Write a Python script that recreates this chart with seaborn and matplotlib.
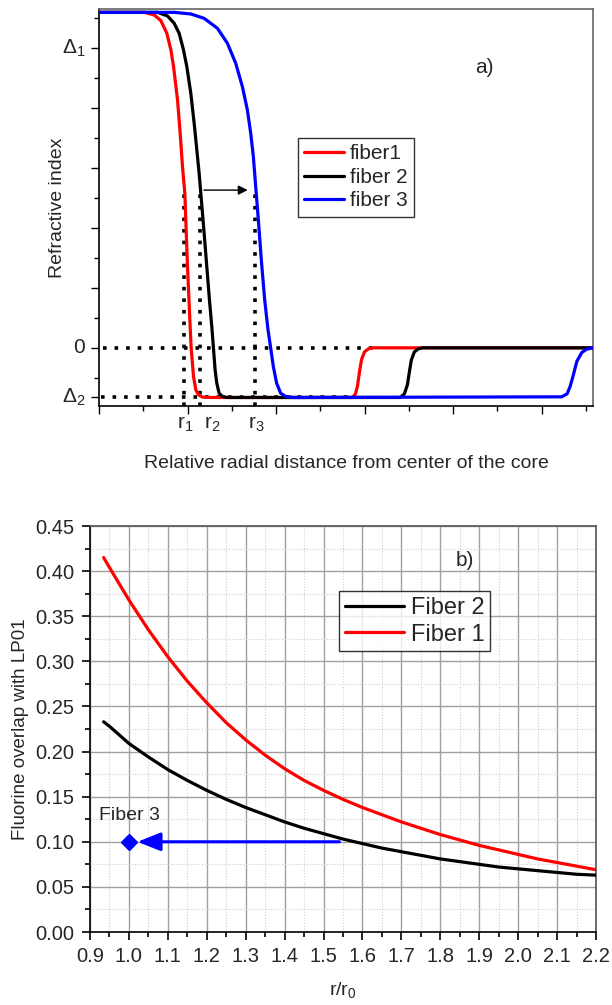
import numpy as np
import pandas as pd
import matplotlib
matplotlib.use("Agg")
import matplotlib.pyplot as plt
from matplotlib.ticker import MultipleLocator, FixedLocator, NullFormatter, FormatStrFormatter
import seaborn as sns

# ---------------- data: panel a) refractive index profiles ----------------
fiber1_x = [0, 1.022, 1.248, 1.398, 1.533, 1.624, 1.684, 1.774, 1.834, 1.886, 1.939, 1.999,
            2.059, 2.082, 2.135, 2.187, 2.247, 2.337, 2.525,
            5.727, 5.795, 5.84, 5.885, 5.93, 5.998, 6.088, 6.178, 11.25]
fiber1_y = [5.594, 5.594, 5.55, 5.456, 5.244, 4.967, 4.689, 4.133, 3.578, 3.022, 2.578, 1.356,
            0.356, 0.0, -0.478, -0.70, -0.783, -0.822, -0.828,
            -0.828, -0.767, -0.633, -0.40, -0.20, -0.067, -0.017, 0.0, 0.0]
fiber2_x = [0, 1.323, 1.548, 1.699, 1.811, 1.909, 1.984, 2.074, 2.150, 2.210, 2.262, 2.300,
            2.375, 2.435, 2.495, 2.548, 2.585, 2.623, 2.661, 2.713, 2.788, 2.901,
            6.809, 6.899, 6.967, 7.012, 7.057, 7.125, 7.215, 7.306, 11.25]
fiber2_y = [5.594, 5.594, 5.533, 5.411, 5.244, 4.967, 4.689, 4.244, 3.744, 3.30, 2.911, 2.578,
            1.911, 1.356, 0.80, 0.356, 0.0, -0.367, -0.589, -0.756, -0.811, -0.828,
            -0.828, -0.767, -0.617, -0.40, -0.20, -0.067, -0.017, 0.0, 0.0]
fiber3_x = [0, 1.699, 2.074, 2.375, 2.676, 2.901, 3.089, 3.239, 3.352, 3.427, 3.487, 3.540,
            3.600, 3.667, 3.743, 3.818, 3.878, 3.938, 4.013, 4.103, 4.216, 4.404,
            10.455, 10.575, 10.643, 10.717, 10.794, 10.906, 11.019, 11.154, 11.25]
fiber3_y = [5.594, 5.594, 5.567, 5.494, 5.328, 5.078, 4.744, 4.356, 3.967, 3.578, 3.189, 2.689,
            2.133, 1.467, 0.80, 0.30, 0.0, -0.311, -0.589, -0.756, -0.811, -0.828,
            -0.817, -0.767, -0.645, -0.45, -0.228, -0.078, -0.022, 0.0, 0.0]
profile_labels = ["fiber1", "fiber 2", "fiber 3"]
delta1 = 5.0
delta2 = -0.828
r_positions = [1.92, 2.28, 3.52]          # dotted marker lines r1, r2, r3
r_label_positions = [1.95, 2.55, 3.56]
r_labels = ["r$_1$", "r$_2$", "r$_3$"]
dotted_top = 2.63
ytick_vals_a = [delta2, 0.0, delta1]
ytick_labels_a = ["Δ$_2$", "0", "Δ$_1$"]

# ---------------- data: panel b) fluorine overlap ----------------
fib1_r = [0.935, 0.95, 1.0, 1.05, 1.1, 1.15, 1.2, 1.25, 1.3, 1.35, 1.4, 1.45, 1.5, 1.55, 1.6,
          1.65, 1.7, 1.75, 1.8, 1.85, 1.9, 1.95, 2.0, 2.05, 2.1, 2.15, 2.2]
fib1_ov = [0.415, 0.404, 0.368, 0.335, 0.305, 0.278, 0.254, 0.232, 0.213, 0.196, 0.181, 0.168,
           0.157, 0.147, 0.138, 0.130, 0.122, 0.115, 0.108, 0.102, 0.096, 0.091, 0.086, 0.081,
           0.077, 0.073, 0.069]
fib2_r = [0.935, 0.95, 1.0, 1.05, 1.1, 1.15, 1.2, 1.25, 1.3, 1.35, 1.4, 1.45, 1.5, 1.55, 1.6,
          1.65, 1.7, 1.75, 1.8, 1.85, 1.9, 1.95, 2.0, 2.05, 2.1, 2.15, 2.2]
fib2_ov = [0.233, 0.228, 0.209, 0.194, 0.180, 0.168, 0.157, 0.147, 0.138, 0.130, 0.122, 0.115,
           0.109, 0.103, 0.098, 0.093, 0.089, 0.085, 0.081, 0.078, 0.075, 0.072, 0.070, 0.068,
           0.066, 0.064, 0.063]
fiber3_point = (1.0, 0.10)
fiber3_arrow_start = (1.541, 0.10)
fiber3_arrow_end = (1.022, 0.10)

df_a = pd.concat([
    pd.DataFrame({"x": fiber1_x, "y": fiber1_y, "fiber": profile_labels[0]}),
    pd.DataFrame({"x": fiber2_x, "y": fiber2_y, "fiber": profile_labels[1]}),
    pd.DataFrame({"x": fiber3_x, "y": fiber3_y, "fiber": profile_labels[2]}),
], ignore_index=True)
df_b = pd.concat([
    pd.DataFrame({"r": fib2_r, "ov": fib2_ov, "fiber": "Fiber 2"}),
    pd.DataFrame({"r": fib1_r, "ov": fib1_ov, "fiber": "Fiber 1"}),
], ignore_index=True)

sns.set_theme(style="ticks")
plt.rcParams["font.family"] = ["Liberation Sans", "DejaVu Sans"]
plt.rcParams["mathtext.fontset"] = "custom"
plt.rcParams["mathtext.rm"] = "Liberation Sans"
plt.rcParams["mathtext.it"] = "Liberation Sans:italic"
plt.rcParams["mathtext.bf"] = "Liberation Sans:bold"
plt.rcParams["axes.unicode_minus"] = False
plt.rcParams["lines.solid_joinstyle"] = "round"

fig = plt.figure(figsize=(6.12, 10.05), dpi=100)
ax1 = fig.add_axes([99 / 612, 1 - 406 / 1005, (593 - 99) / 612, (406 - 9) / 1005])
ax2 = fig.add_axes([90 / 612, 1 - 932 / 1005, (596 - 90) / 612, (932 - 526) / 1005])

# ---------- panel a ----------
pal_a = {"fiber1": "#ff0000", "fiber 2": "#000000", "fiber 3": "#0000ff"}
dot = dict(color="black", lw=2.6, linestyle=(0, (1, 2.2)), zorder=1)
ax1.plot([0.1, 6.2], [0, 0], **dot)
ax1.plot([0.05, 5.8], [delta2, delta2], **dot)
for rp in r_positions:
    ax1.plot([rp, rp], [-0.97, dotted_top], **dot)
sns.lineplot(data=df_a, x="x", y="y", hue="fiber", palette=pal_a, ax=ax1, lw=2.3,
             sort=False, estimator=None, zorder=3)
ax1.annotate("", xy=(3.36, dotted_top), xytext=(2.37, dotted_top),
             arrowprops=dict(arrowstyle="-|>", color="black", lw=1.0,
                             mutation_scale=14, shrinkA=0, shrinkB=0))
ax1.set_xlim(0, 11.16)
ax1.set_ylim(-0.97, 5.65)
ax1.xaxis.set_major_locator(MultipleLocator(2))
ax1.xaxis.set_minor_locator(FixedLocator([1, 3, 5, 7, 9, 11]))
ax1.xaxis.set_major_formatter(NullFormatter())
ax1.yaxis.set_major_locator(FixedLocator([0, 1, 2, 3, 4, 5, delta2]))
ax1.yaxis.set_minor_locator(FixedLocator([-0.5, 0.5, 1.5, 2.5, 3.5, 4.5, 5.5]))
ax1.yaxis.set_major_formatter(NullFormatter())
ax1.tick_params(which="major", direction="out", length=6, width=1, color="black")
ax1.tick_params(which="minor", direction="out", length=3.5, width=1, color="black")
for v, lab in zip(ytick_vals_a, ytick_labels_a):
    ax1.text(-0.028, v, lab, transform=ax1.get_yaxis_transform(), ha="right", va="center",
             fontsize=15)
for v, lab in zip(r_label_positions, r_labels):
    ax1.text(v, -0.022, lab, transform=ax1.get_xaxis_transform(), ha="center", va="top",
             fontsize=15)
ax1.set_xlabel("Relative radial distance from center of the core", fontsize=14, labelpad=26)
ax1.set_ylabel("Refractive index", fontsize=14, labelpad=14)
for s in ["left", "bottom"]:
    ax1.spines[s].set_color("black")
    ax1.spines[s].set_linewidth(1.2)
for s in ["top", "right"]:
    ax1.spines[s].set_color("#666666")
    ax1.spines[s].set_linewidth(1.2)
ax1.text(8.70, 4.67, "a)", fontsize=15, ha="center", va="center")
leg1 = ax1.legend(loc="upper left", bbox_to_anchor=(0.403, 0.675), fontsize=15, frameon=True,
                  fancybox=False, edgecolor="black", handlelength=1.9, handletextpad=0.3,
                  borderpad=0.3, labelspacing=0.22, borderaxespad=0)
leg1.get_frame().set_linewidth(1.0)
for h in leg1.get_lines():
    h.set_linewidth(2.3)

# ---------- panel b ----------
pal_b = {"Fiber 2": "#000000", "Fiber 1": "#ff0000"}
ax2.set_axisbelow(True)
ax2.grid(which="major", color="#a0a0a0", lw=1.0, linestyle="-")
ax2.grid(which="minor", color="#d0d0d0", lw=0.8, linestyle=(0, (1, 1.5)))
sns.lineplot(data=df_b, x="r", y="ov", hue="fiber", palette=pal_b, ax=ax2, lw=2.3,
             sort=False, estimator=None, zorder=3)
ax2.annotate("", xy=fiber3_arrow_end, xytext=fiber3_arrow_start,
             arrowprops=dict(arrowstyle="-|>,head_length=1.0,head_width=0.4", color="#0000ff",
                             lw=2.2, mutation_scale=14, shrinkA=0, shrinkB=0), zorder=4)
ax2.plot([fiber3_point[0]], [fiber3_point[1]], marker="D", color="#0000ff", markersize=8,
         zorder=5, clip_on=False)
ax2.text(0.923, 0.129, "Fiber 3", fontsize=14, ha="left", va="center")
ax2.text(1.863, 0.412, "b)", fontsize=15, ha="center", va="center")
ax2.set_xlim(0.9, 2.2)
ax2.set_ylim(0, 0.45)
ax2.xaxis.set_major_locator(MultipleLocator(0.1))
ax2.xaxis.set_minor_locator(MultipleLocator(0.05))
ax2.yaxis.set_major_locator(MultipleLocator(0.05))
ax2.yaxis.set_minor_locator(MultipleLocator(0.025))
ax2.xaxis.set_major_formatter(FormatStrFormatter("%.1f"))
ax2.yaxis.set_major_formatter(FormatStrFormatter("%.2f"))
ax2.tick_params(which="major", direction="out", length=6, width=1.2, labelsize=14.5,
                color="black", pad=5)
ax2.tick_params(which="minor", direction="out", length=3.5, width=1.2, color="black")
ax2.set_xlabel("r/r$_0$", fontsize=14, labelpad=10)
ax2.set_ylabel("Fluorine overlap with LP01", fontsize=13.5, labelpad=5)
for s in ["left", "bottom", "top", "right"]:
    ax2.spines[s].set_color("black")
    ax2.spines[s].set_linewidth(1.2)
ax2.spines["top"].set_color("#555555")
ax2.spines["right"].set_color("#555555")
leg2 = ax2.legend(loc="upper left", bbox_to_anchor=(0.4915, 0.84), fontsize=17, frameon=True,
                  fancybox=False, edgecolor="black", handlelength=2.5, handletextpad=0.3,
                  borderpad=0.25, labelspacing=0.2, borderaxespad=0)
leg2.get_frame().set_linewidth(1.0)
for h in leg2.get_lines():
    h.set_linewidth(2.3)

fig.savefig("out.png", dpi=100)
